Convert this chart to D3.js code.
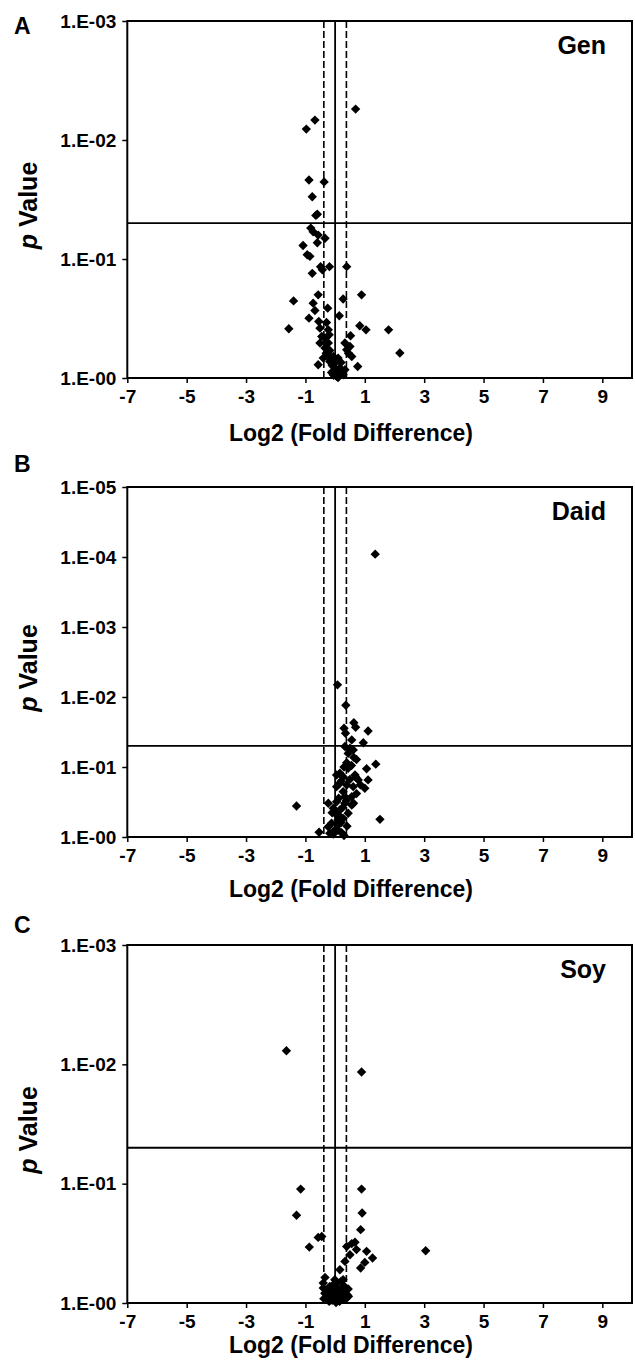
<!DOCTYPE html>
<meta charset="utf-8">
<script src="https://d3js.org/d3.v7.min.js"></script>
<style>
  body { margin: 0; background: #fff; }
  text { font-family: "Liberation Sans", Arial, sans-serif; font-weight: bold; fill: #000; }
</style>
<div id="volcano"></div>
<script>

// x ticks shared by all three panels
var xTicks = [-7, -5, -3, -1, 1, 3, 5, 7, 9];
var xDomain = [-7, 10];
var pCut = 0.05;      // horizontal line
var foldCut = 0.38;   // dashed lines at +/- this

// Panel A : Gen
var genX = [0.69,-0.68,-0.97,-0.88,-0.37,-0.77,-0.65,-0.60,-0.82,-0.74,-0.57,-0.34,-0.60,-1.08,-0.94,-0.85,
  -0.49,-0.19,0.39,-0.43,-0.77,-0.57,0.89,-1.40,0.27,-0.74,-0.68,-0.25,-0.88,0.14,-0.55,-0.29,-1.56,-0.51,
  -0.23,0.83,1.04,1.80,-0.45,-0.20,0.52,-0.51,-0.23,0.33,0.50,-0.34,-0.18,0.39,0.56,2.18,-0.23,-0.06,0.10,
  -0.18,-0.01,-0.57,0.76,-0.06,0.16,0.33,0.05,-0.12,0.27,0.05,0.10,-0.05,0.20,
  -0.30,-0.15,0.20,-0.40,0.00,0.15,-0.10,0.45,-0.35];
var genP = [0.0055,0.0068,0.0081,0.0217,0.0225,0.030,0.043,0.042,0.055,0.059,0.063,0.067,0.073,0.077,0.092,0.095,
  0.116,0.116,0.116,0.123,0.132,0.20,0.20,0.225,0.217,0.235,0.271,0.259,0.314,0.30,0.335,0.342,0.386,0.381,
  0.394,0.364,0.394,0.394,0.448,0.433,0.442,0.508,0.508,0.508,0.543,0.56,0.586,0.579,0.659,0.617,0.638,0.659,0.68,
  0.726,0.748,0.773,0.80,0.80,0.824,0.851,0.88,0.90,0.94,0.97,0.99,0.95,0.92,
  0.62,0.70,0.74,0.68,0.86,0.90,0.78,0.62,0.46];

// Panel B : Daid
var daidX = [1.35,0.08,0.36,0.63,0.69,0.30,1.11,0.35,0.56,0.95,0.33,0.50,0.63,0.72,1.37,0.39,1.06,0.44,0.05,0.27,
  0.67,0.78,1.11,0.16,0.39,0.61,1.00,0.27,0.05,-1.30,-0.23,0.05,0.33,0.56,-0.06,0.16,0.44,1.51,0.05,0.27,
  -0.12,0.10,-0.23,-0.01,-0.54,0.22,-0.06,0.33,0.56,0.16,0.44,0.61,-0.18,0.10,
  0.20,0.50,0.70,0.30,0.55,0.85,0.12,0.38,0.62,0.25,-0.10,0.20,0.40,0.10,0.30,0.15,0.72];
var daidP = [0.000091,0.0067,0.0131,0.0233,0.0271,0.028,0.0306,0.033,0.041,0.045,0.051,0.054,0.073,0.078,0.091,0.087,
  0.106,0.104,0.130,0.138,0.130,0.153,0.153,0.171,0.181,0.191,0.201,0.225,0.191,0.36,0.33,0.313,0.33,0.349,0.389,
  0.411,0.458,0.559,0.485,0.541,0.637,0.674,0.713,0.794,0.857,0.868,0.906,0.266,0.266,0.123,0.064,0.057,0.885,0.572,
  0.16,0.15,0.14,0.10,0.095,0.18,0.28,0.30,0.33,0.38,0.45,0.62,0.70,0.80,0.95,0.50,0.24];

// Panel C : Soy
var soyX = [-1.64,0.89,-1.16,0.89,-1.30,0.91,0.86,-0.57,-0.45,-0.87,3.05,0.67,0.56,0.39,0.72,1.06,1.26,0.50,0.33,
  1.00,0.86,0.16,-0.34,-0.40,0.27,-0.18,0.05,0.44,-0.29,-0.06,0.16,0.33,-0.18,0.03,-0.40,-0.01,0.39,0.22,
  -0.10,0.10,-0.20,0.25,0.00,0.12,-0.30,
  -0.35,-0.25,-0.15,0.30,0.40,-0.05,0.20,0.35,-0.38,0.45,-0.20,0.15,0.08,-0.10,0.28];
var soyP = [0.0077,0.0116,0.111,0.111,0.184,0.176,0.243,0.282,0.277,0.34,0.365,0.31,0.318,0.336,0.357,0.369,0.42,0.394,0.448,
  0.457,0.509,0.526,0.61,0.68,0.638,0.726,0.68,0.764,0.80,0.851,0.88,0.80,0.908,0.99,0.75,0.638,0.908,0.75,
  0.95,0.93,0.86,0.86,0.78,0.82,0.90,
  0.83,0.78,0.74,0.72,0.85,0.70,0.66,0.78,0.92,0.88,0.97,0.97,0.75,0.82,0.93];

var yTicksA = [1e-3, 1e-2, 1e-1, 1];
var yLabelsA = ["1.E-03", "1.E-02", "1.E-01", "1.E-00"];
var yTicksB = [1e-5, 1e-4, 1e-3, 1e-2, 1e-1, 1];
var yLabelsB = ["1.E-05", "1.E-04", "1.E-03", "1.E-02", "1.E-01", "1.E-00"];
var yTicksC = [1e-3, 1e-2, 1e-1, 1];
var yLabelsC = ["1.E-03", "1.E-02", "1.E-01", "1.E-00"];

var W = 635, H = 1368;
var left = 127.3, right = 632;

var panels = [
  {letter: "A", title: "Gen",  xs: genX,  ps: genP,  ticks: yTicksA, labels: yLabelsA, top: 21,  bottom: 378,  letterY: 34,  labelY: 441},
  {letter: "B", title: "Daid", xs: daidX, ps: daidP, ticks: yTicksB, labels: yLabelsB, top: 487, bottom: 837,  letterY: 472, labelY: 897},
  {letter: "C", title: "Soy",  xs: soyX,  ps: soyP,  ticks: yTicksC, labels: yLabelsC, top: 945, bottom: 1303, letterY: 933, labelY: 1353}
];

var svg = d3.select("#volcano")
  .append("svg")
    .attr("width", W)
    .attr("height", H);

var x = d3.scaleLinear().domain(xDomain).range([left, right]);

panels.forEach(function(p) {
  var g = svg.append("g");

  var y = d3.scaleLog()
    .domain([1, p.ticks[0]])
    .range([p.bottom, p.top]);

  // points
  var pts = p.xs.map(function(v, i) { return {x: v, p: p.ps[i]}; });
  g.selectAll("path.pt")
    .data(pts)
    .enter()
    .append("path")
      .attr("class", "pt")
      .attr("d", d3.symbol().type(d3.symbolSquare).size(44))
      .attr("transform", function(d) {
        return "translate(" + x(d.x) + "," + y(d.p) + ") rotate(45)";
      })
      .style("fill", "#000");

  // reference lines
  g.append("line")
    .attr("x1", left).attr("x2", right)
    .attr("y1", y(pCut)).attr("y2", y(pCut))
    .style("stroke", "#000").style("stroke-width", 1.8);

  g.append("line")
    .attr("x1", x(0)).attr("x2", x(0))
    .attr("y1", p.top).attr("y2", p.bottom)
    .style("stroke", "#000").style("stroke-width", 1.8);

  [-foldCut, foldCut].forEach(function(c) {
    g.append("line")
      .attr("x1", x(c)).attr("x2", x(c))
      .attr("y1", p.top).attr("y2", p.bottom)
      .style("stroke", "#000").style("stroke-width", 1.6)
      .style("stroke-dasharray", "7,3");
  });

  // frame
  g.append("rect")
    .attr("x", left).attr("y", p.top)
    .attr("width", right - left).attr("height", p.bottom - p.top)
    .style("fill", "none").style("stroke", "#000").style("stroke-width", 2);

  // y axis
  var yAxis = g.append("g")
    .attr("transform", "translate(" + left + ",0)")
    .call(d3.axisLeft(y).tickValues(p.ticks)
      .tickFormat(function(d, i) { return p.labels[i]; })
      .tickSize(5).tickPadding(6));
  yAxis.select(".domain").remove();
  yAxis.selectAll("line").style("stroke-width", 1.5);
  yAxis.selectAll("text").style("font-size", "19px").style("font-family", null);

  // x axis (plain hyphen for negatives, as in the figure)
  var xAxis = g.append("g")
    .attr("transform", "translate(0," + p.bottom + ")")
    .call(d3.axisBottom(x).tickValues(xTicks)
      .tickFormat(function(d) { return String(d); })
      .tickSize(5).tickPadding(7));
  xAxis.select(".domain").remove();
  xAxis.selectAll("line").style("stroke-width", 1.5);
  xAxis.selectAll("text").style("font-size", "19px").style("font-family", null);

  // labels
  g.append("text")
    .attr("x", 351).attr("y", p.labelY)
    .style("text-anchor", "middle")
    .style("font-size", "23px")
    .text("Log2 (Fold Difference)");

  var yl = g.append("text")
    .attr("transform", "translate(37," + ((p.top + p.bottom) / 2 + 6) + ") rotate(-90)")
    .style("text-anchor", "middle")
    .style("font-size", "25px");
  yl.append("tspan").style("font-style", "italic").text("p");
  yl.append("tspan").text(" Value");

  g.append("text")
    .attr("x", 14).attr("y", p.letterY)
    .style("font-size", "23px")
    .text(p.letter);

  g.append("text")
    .attr("x", 606).attr("y", p.top + 33)
    .style("text-anchor", "end")
    .style("font-size", "25px")
    .text(p.title);
});

</script>
